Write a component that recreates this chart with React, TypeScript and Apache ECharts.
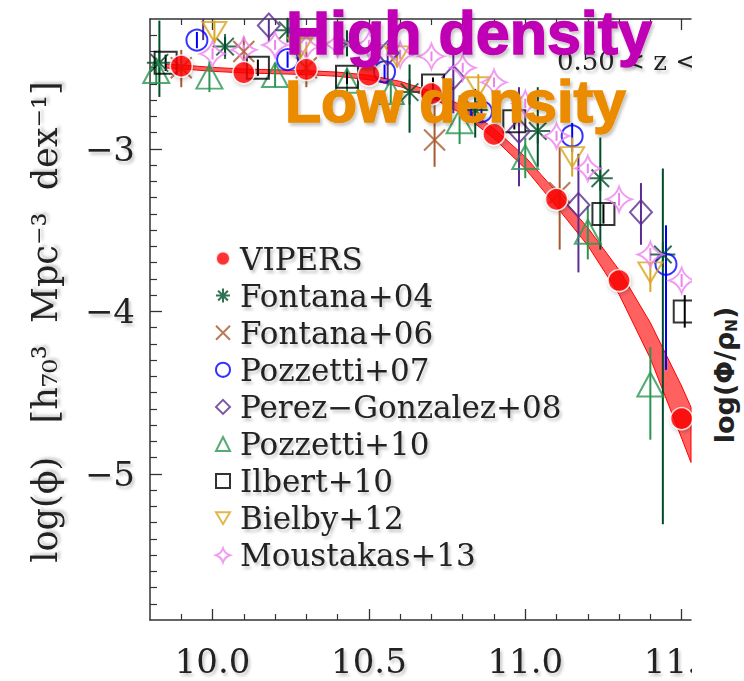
import React, { useEffect, useRef } from 'react';
import * as echarts from 'echarts';

const X_MIN = 9.8;
const X_MAX = 11.53;
const Y_MIN = -5.9;
const Y_MAX = -2.2;

const xMajorTicks = [10.0, 10.5, 11.0, 11.5];
const xMinorTicks = [9.9, 10.1, 10.2, 10.3, 10.4, 10.6, 10.7, 10.8, 10.9, 11.1, 11.2, 11.3, 11.4];
const yMajorTicks = [-5, -4, -3];
const yMinorTicks = [-5.8, -5.7, -5.6, -5.5, -5.4, -5.3, -5.2, -5.1, -4.9, -4.8, -4.7, -4.6, -4.5, -4.4, -4.3, -4.2, -4.1,
  -3.9, -3.8, -3.7, -3.6, -3.5, -3.4, -3.3, -3.2, -3.1, -2.9, -2.8, -2.7, -2.6, -2.5, -2.4, -2.3];

// VIPERS points
const vipersMass = [9.9, 10.1, 10.3, 10.5, 10.7, 10.9, 11.1, 11.3, 11.5];
const vipersLogPhi = [-2.49, -2.53, -2.51, -2.545, -2.66, -2.91, -3.31, -3.81, -4.66];

// VIPERS fit band
const fitMass = [9.85, 9.9, 10.0, 10.1, 10.2, 10.3, 10.4, 10.5, 10.6, 10.7, 10.8, 10.9, 11.0, 11.1, 11.2, 11.3, 11.4, 11.5, 11.53];
const fitLow = [-2.502, -2.507, -2.522, -2.532, -2.537, -2.542, -2.553, -2.574, -2.616, -2.685, -2.785, -2.935, -3.121, -3.355, -3.595, -3.895, -4.29, -4.78, -4.93];
const fitHigh = [-2.478, -2.483, -2.498, -2.508, -2.513, -2.518, -2.527, -2.546, -2.584, -2.645, -2.735, -2.875, -3.049, -3.265, -3.485, -3.745, -4.07, -4.46, -4.59];

// [mass, logPhi, lower, upper]
const fontana04 = [
  [9.83, -2.47, -2.68, -2.21], [10.04, -2.37, -2.43, -2.31], [10.24, -2.27, -2.34, -2.2],
  [10.43, -2.35, -2.43, -2.27], [10.63, -2.65, -2.9, -2.48], [10.84, -2.76, -2.93, -2.63],
  [11.04, -2.89, -3.11, -2.62], [11.24, -3.18, -3.62, -2.93], [11.44, -3.65, -5.31, -3.12],
];
const fontana06 = [
  [9.9, -2.5, -2.62, -2.39], [10.1, -2.4, -2.48, -2.31], [10.3, -2.5, -2.62, -2.4],
  [10.71, -2.945, -3.11, -2.73], [11.11, -3.27, -3.62, -2.99],
];
const pozzetti07 = [
  [9.95, -2.33, -2.38, -2.28], [10.24, -2.45, -2.5, -2.4], [10.55, -2.525, -2.57, -2.48],
  [10.86, -2.77, -2.82, -2.72], [11.15, -2.92, -3.02, -2.84], [11.45, -3.71, -4.36, -3.47],
];
const perezGonzalez08 = [
  [9.97, -2.185, -2.33, -2.15], [10.18, -2.24, -2.34, -2.16], [10.56, -2.41, -2.61, -2.35],
  [10.77, -2.56, -2.78, -2.39], [10.98, -2.89, -3.23, -2.62], [11.17, -3.345, -3.76, -3.03],
  [11.37, -3.39, -3.59, -3.21],
];
const pozzetti10 = [
  [9.82, -2.52, -2.6, -2.44], [9.99, -2.555, -2.65, -2.46], [10.2, -2.545, -2.62, -2.47],
  [10.43, -2.58, -2.66, -2.5], [10.57, -2.65, -2.72, -2.58], [10.79, -2.83, -2.97, -2.67],
  [11.0, -3.05, -3.18, -2.93], [11.2, -3.51, -3.68, -3.35], [11.4, -4.45, -4.79, -4.22],
];
const ilbert10 = [
  [9.85, -2.47, -2.52, -2.42], [10.145, -2.5, -2.55, -2.45], [10.43, -2.555, -2.6, -2.51],
  [10.705, -2.61, -2.66, -2.56], [10.965, -2.83, -2.88, -2.78], [11.25, -3.4, -3.46, -3.34],
  [11.51, -4.0, -4.1, -3.9],
];
const bielby12 = [
  [10.006, -2.28, -2.35, -2.21], [10.28, -2.38, -2.45, -2.31], [10.59, -2.43, -2.5, -2.36],
  [10.85, -2.62, -2.7, -2.54], [11.15, -3.05, -3.17, -2.93], [11.4, -3.76, -3.88, -3.7],
];
const moustakas13 = [
  [10.0, -2.415, -2.45, -2.38], [10.1, -2.39, -2.42, -2.36], [10.2, -2.36, -2.39, -2.33],
  [10.3, -2.37, -2.4, -2.34], [10.4, -2.355, -2.39, -2.32], [10.5, -2.36, -2.39, -2.33],
  [10.6, -2.42, -2.45, -2.39], [10.7, -2.43, -2.46, -2.4], [10.8, -2.5, -2.53, -2.47],
  [10.9, -2.59, -2.62, -2.56], [11.0, -2.72, -2.75, -2.69], [11.1, -2.92, -2.95, -2.89],
  [11.2, -3.12, -3.15, -3.09], [11.3, -3.31, -3.35, -3.27], [11.4, -3.65, -3.69, -3.61],
  [11.5, -3.81, -3.85, -3.77],
];

const SYM_ASTERISK = 'path://M10,0L10,20M0,10L20,10M3,3L17,17M3,17L17,3';
const SYM_CROSS = 'path://M0,0L20,20M0,20L20,0';
const SYM_DOWN_TRI = 'path://M0,0L20,0L10,17Z';
const SYM_STAR4 = 'path://M10,0Q12.5,7.5 20,10Q12.5,12.5 10,20Q7.5,12.5 0,10Q7.5,7.5 10,0Z';

const SERIF = '"DejaVu Serif", serif';

const comparisons = [
  { name: 'Fontana+04', data: fontana04, color: '#004d2a', symbol: SYM_ASTERISK, size: 25 },
  { name: 'Fontana+06', data: fontana06, color: '#a65a2e', symbol: SYM_CROSS, size: 21 },
  { name: 'Pozzetti+07', data: pozzetti07, color: '#0000ff', symbol: 'circle', size: 21 },
  { name: 'Perez−Gonzalez+08', data: perezGonzalez08, color: '#5b2d90', symbol: 'diamond', size: [22, 24] },
  { name: 'Pozzetti+10', data: pozzetti10, color: '#2a9652', symbol: 'triangle', size: [26, 24] },
  { name: 'Ilbert+10', data: ilbert10, color: '#000000', symbol: 'rect', size: 22 },
  { name: 'Bielby+12', data: bielby12, color: '#daa520', symbol: SYM_DOWN_TRI, size: [24, 20] },
  { name: 'Moustakas+13', data: moustakas13, color: '#ee82ee', symbol: SYM_STAR4, size: 25 },
];

function errRenderer(color: string) {
  return (params: any, api: any) => {
    const x = api.value(0);
    if (x > X_MAX || x < X_MIN) return null;
    const lo = Math.max(api.value(1), Y_MIN);
    const hi = Math.min(api.value(2), Y_MAX);
    const p1 = api.coord([x, lo]);
    const p2 = api.coord([x, hi]);
    return {
      type: 'line',
      shape: { x1: p1[0], y1: p1[1], x2: p2[0], y2: p2[1] },
      style: { stroke: color, lineWidth: 2 },
    };
  };
}

function bandRenderer(params: any, api: any) {
  if (params.dataIndex !== 0) return null;
  const pts: number[][] = [];
  for (let i = 0; i < fitMass.length; i++) pts.push(api.coord([fitMass[i], fitHigh[i]]));
  for (let i = fitMass.length - 1; i >= 0; i--) pts.push(api.coord([fitMass[i], fitLow[i]]));
  return {
    type: 'polygon',
    shape: { points: pts },
    style: { fill: 'rgba(255,0,0,0.62)', stroke: '#ff0000', lineWidth: 1 },
  };
}

function buildOption() {
  const axisColor = '#333';
  const series: any[] = [];
  series.push({
    type: 'custom',
    name: 'VIPERS fit',
    renderItem: bandRenderer,
    data: fitMass.map((m, i) => [m, fitLow[i], fitHigh[i]]),
    encode: { x: 0, y: [1, 2] },
    silent: true,
    z: 1,
  });
  comparisons.forEach((c) => {
    series.push({
      type: 'custom',
      name: c.name + ' err',
      renderItem: errRenderer(c.color),
      data: c.data.map((p) => [p[0], p[2], p[3]]),
      encode: { x: 0, y: [1, 2] },
      silent: true,
      z: 3,
    });
  });
  comparisons.forEach((c) => {
    series.push({
      type: 'scatter',
      name: c.name,
      data: c.data.map((p) => [p[0], p[1]]),
      symbol: c.symbol,
      symbolSize: c.size,
      clip: true,
      itemStyle: { color: 'transparent', borderColor: c.color, borderWidth: 2 },
      z: 4,
    });
  });
  series.push({
    type: 'scatter',
    name: 'VIPERS',
    data: vipersMass.map((m, i) => [m, vipersLogPhi[i]]),
    symbol: 'circle',
    symbolSize: 22,
    clip: true,
    itemStyle: {
      color: '#ff0000', borderColor: '#ffffff', borderWidth: 1.5,
      shadowColor: 'rgba(0,0,0,0.25)', shadowBlur: 4, shadowOffsetX: 1, shadowOffsetY: 2,
    },
    z: 10,
  });

  const shadow = { textShadowColor: 'rgba(0,0,0,0.22)', textShadowBlur: 3, textShadowOffsetX: 2, textShadowOffsetY: 3 };

  const baseX = { type: 'value', min: X_MIN, max: X_MAX, splitLine: { show: false } };
  const baseY = { type: 'value', min: Y_MIN, max: Y_MAX, splitLine: { show: false } };

  return {
    animation: false,
    backgroundColor: '#ffffff',
    grid: { left: 150, right: 53, top: 19, bottom: 61, containLabel: false, outerBoundsMode: 'none' },
    xAxis: [
      {
        ...baseX, position: 'bottom',
        axisLine: { show: true, onZero: false, lineStyle: { color: axisColor, width: 1.5 } },
        axisTick: { show: true, inside: true, length: 11, customValues: xMajorTicks, lineStyle: { color: axisColor, width: 1.3 } },
        axisLabel: {
          show: true, customValues: xMajorTicks, formatter: (v: number) => v.toFixed(1), margin: 26,
          fontFamily: SERIF, fontSize: 34, lineHeight: 30, color: '#222', ...shadow,
        },
      },
      {
        ...baseX, position: 'bottom',
        axisLine: { show: false },
        axisTick: { show: true, inside: true, length: 6, customValues: xMinorTicks, lineStyle: { color: axisColor, width: 1.2 } },
        axisLabel: { show: false },
      },
      {
        ...baseX, position: 'top',
        axisLine: { show: true, onZero: false, lineStyle: { color: axisColor, width: 1.5 } },
        axisTick: { show: true, inside: true, length: 11, customValues: xMajorTicks, lineStyle: { color: axisColor, width: 1.3 } },
        axisLabel: { show: false },
      },
      {
        ...baseX, position: 'top',
        axisLine: { show: false },
        axisTick: { show: true, inside: true, length: 6, customValues: xMinorTicks, lineStyle: { color: axisColor, width: 1.2 } },
        axisLabel: { show: false },
      },
    ],
    yAxis: [
      {
        ...baseY, position: 'left',
        axisLine: { show: true, onZero: false, lineStyle: { color: axisColor, width: 1.5 } },
        axisTick: { show: true, inside: true, length: 12, customValues: yMajorTicks, lineStyle: { color: axisColor, width: 1.3 } },
        axisLabel: {
          show: true, customValues: yMajorTicks, formatter: (v: number) => '−' + Math.abs(v), margin: 15,
          fontFamily: SERIF, fontSize: 34, color: '#222', ...shadow,
        },
      },
      {
        ...baseY, position: 'left',
        axisLine: { show: false },
        axisTick: { show: true, inside: true, length: 7, customValues: yMinorTicks, lineStyle: { color: axisColor, width: 1.2 } },
        axisLabel: { show: false },
      },
    ],
    legend: {
      data: ['VIPERS', ...comparisons.map((c) => c.name)],
      orient: 'vertical',
      left: 210,
      top: 238,
      itemWidth: 14,
      itemHeight: 14,
      itemGap: 6.1,
      selectedMode: false,
      textStyle: {
        fontFamily: SERIF, fontSize: 31, lineHeight: 31, color: '#222', padding: [0, 0, 0, 5], ...shadow,
      },
    },
    graphic: [
      {
        type: 'text', x: 557, y: 61, z: 40,
        style: {
          text: '0.50 < z <', fontFamily: SERIF, fontSize: 26, fill: '#222',
          verticalAlign: 'middle', textVerticalAlign: 'middle', ...shadow,
        },
      },
      {
        type: 'rect', z: 50, silent: true,
        shape: { x: 692, y: 0, width: 52, height: 681 },
        style: { fill: '#ffffff' },
      },
      {
        type: 'text', x: 45, y: 322, rotation: Math.PI / 2, z: 60,
        style: {
          text: 'log(ϕ)   [h₇₀³  Mpc⁻³  dex⁻¹]', fontFamily: SERIF, fontSize: 35, fill: '#222',
          align: 'center', verticalAlign: 'middle', textAlign: 'center', textVerticalAlign: 'middle', ...shadow,
        },
      },
      {
        type: 'text', x: 724, y: 375, rotation: Math.PI / 2, z: 60,
        style: {
          text: '{a|log(Φ/ρ}{b|N}{a|)}',
          align: 'center', verticalAlign: 'middle', textAlign: 'center', textVerticalAlign: 'middle',
          rich: {
            a: { fontFamily: '"DejaVu Sans", sans-serif', fontWeight: 'bold', fontSize: 27, fill: '#222', lineHeight: 30 },
            b: { fontFamily: '"DejaVu Sans", sans-serif', fontWeight: 'bold', fontSize: 15, fill: '#222', lineHeight: 30, verticalAlign: 'bottom' },
          },
        },
      },
      {
        type: 'text', x: 286, y: 33, z: 70,
        style: {
          text: 'High density', fontFamily: '"Liberation Sans", Arial, sans-serif', fontWeight: 'bold', fontSize: 61,
          fill: '#c000b4', stroke: '#c000b4', lineWidth: 1.5, lineJoin: 'round',
          verticalAlign: 'middle', textVerticalAlign: 'middle', ...shadow,
        },
      },
      {
        type: 'text', x: 285, y: 102, z: 70,
        style: {
          text: 'Low density', fontFamily: '"Liberation Sans", Arial, sans-serif', fontWeight: 'bold', fontSize: 59,
          fill: '#ea8b00', stroke: '#ea8b00', lineWidth: 1.5, lineJoin: 'round',
          verticalAlign: 'middle', textVerticalAlign: 'middle', ...shadow,
        },
      },
    ],
    series,
  };
}

export default function App() {
  const ref = useRef<HTMLDivElement>(null);
  useEffect(() => {
    if (!ref.current) return;
    const chart = echarts.init(ref.current, null, { renderer: 'svg' });
    chart.setOption(buildOption() as any);
    return () => chart.dispose();
  }, []);
  return <div ref={ref} style={{ position: 'absolute', left: 0, top: 0, width: 744, height: 681 }} />;
}
